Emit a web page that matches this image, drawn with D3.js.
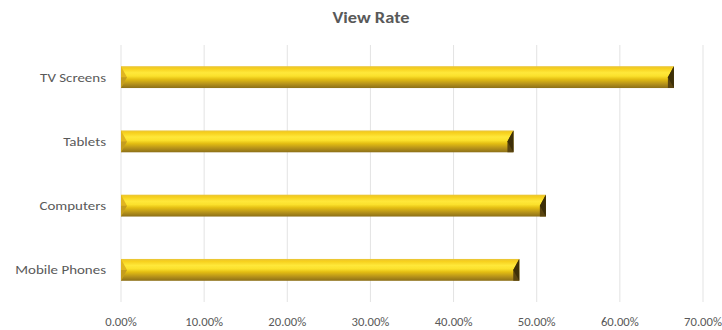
<!DOCTYPE html>
<html><head><meta charset="utf-8">
<script src="https://cdn.jsdelivr.net/npm/d3@7"></script>
<style>body{margin:0;background:#fff}svg{display:block}</style>
</head><body>
<svg id="c" width="722" height="330"></svg>
<script>
const categories = ["TV Screens", "Tablets", "Computers", "Mobile Phones"];
const viewRate = [0.665, 0.472, 0.511, 0.479];
const tickValues = [0, 0.1, 0.2, 0.3, 0.4, 0.5, 0.6, 0.7];
const title = "View Rate";

const svg = d3.select("#c");
const W = 722, H = 330;
const m = {left: 121, right: 19, top: 45, bottom: 28};
const font = "Carlito,'DejaVu Sans Condensed','Open Sans',sans-serif";
const sx = 1.15;

const x = d3.scaleLinear().domain([0, 0.7]).range([m.left, W - m.right]);
const y = d3.scaleBand().domain(categories).range([m.top, H - m.bottom]).paddingInner(0.66).paddingOuter(0.33);

const defs = svg.append("defs");
const g = defs.append("linearGradient").attr("id", "gold").attr("x1", 0).attr("y1", 0).attr("x2", 0).attr("y2", 1);
[[0, "#e8c43a"], [0.1, "#f6cf1c"], [0.3, "#ffe83a"], [0.45, "#fbe12c"], [0.6, "#e3bd12"], [0.8, "#b8941a"], [1, "#8c6f18"]]
  .forEach(([o, c]) => g.append("stop").attr("offset", o).attr("stop-color", c));

// gridlines
svg.append("g").selectAll("line").data(tickValues).join("line")
  .attr("x1", d => x(d)).attr("x2", d => x(d))
  .attr("y1", m.top).attr("y2", H - m.bottom)
  .attr("stroke", "#e3e3e3").attr("stroke-width", 1);

// title
svg.append("text").attr("transform", `translate(371,23) scale(${sx},1)`).attr("text-anchor", "middle")
  .attr("font-family", font).attr("font-size", 16).attr("font-weight", "bold").attr("fill", "#595959").text(title);

// bars
const bars = svg.append("g").selectAll("g").data(categories.map((c, i) => ({c, v: viewRate[i]}))).join("g");
const bw = 6;
bars.append("rect")
  .attr("x", x(0)).attr("y", d => y(d.c)).attr("width", d => x(d.v) - x(0)).attr("height", y.bandwidth())
  .attr("fill", "url(#gold)");
// left bevel
bars.append("path").attr("d", d => {
  const y0 = y(d.c), h = y.bandwidth(), x0 = x(0);
  return `M${x0},${y0}L${x0 + bw},${y0 + h / 2}L${x0},${y0 + h}Z`;
}).attr("fill", "#e0b520");
bars.append("path").attr("d", d => {
  const y0 = y(d.c), h = y.bandwidth(), x0 = x(0);
  return `M${x0},${y0 + h / 2}L${x0 + bw},${y0 + h / 2}L${x0},${y0 + h}Z`;
}).attr("fill", "#a8861a").attr("opacity", 0.5);
// right bevel
bars.append("path").attr("d", d => {
  const y0 = y(d.c), h = y.bandwidth(), x1 = x(d.v);
  return `M${x1},${y0}L${x1 - bw},${y0 + h / 2}L${x1 - bw},${y0 + h}L${x1},${y0 + h}Z`;
}).attr("fill", "#5a4510");
bars.append("path").attr("d", d => {
  const y0 = y(d.c), h = y.bandwidth(), x1 = x(d.v);
  return `M${x1},${y0}L${x1 - bw},${y0 + h / 2}L${x1},${y0 + h}Z`;
}).attr("fill", "#3d2f08");

// y labels
svg.append("g").selectAll("text").data(categories).join("text")
  .attr("transform", d => `translate(${m.left - 15},${y(d) + y.bandwidth() / 2}) scale(${sx},1)`).attr("dy", "0.35em")
  .attr("text-anchor", "end").attr("font-family", font).attr("font-size", 13).attr("fill", "#595959").text(d => d);

// x labels
svg.append("g").selectAll("text").data(tickValues).join("text")
  .attr("transform", d => `translate(${x(d)},${H - 4}) scale(1.1,1)`)
  .attr("text-anchor", "middle").attr("font-family", font).attr("font-size", 11.5).attr("fill", "#595959")
  .text(d => d3.format(".2%")(d));
</script>
</body></html>
